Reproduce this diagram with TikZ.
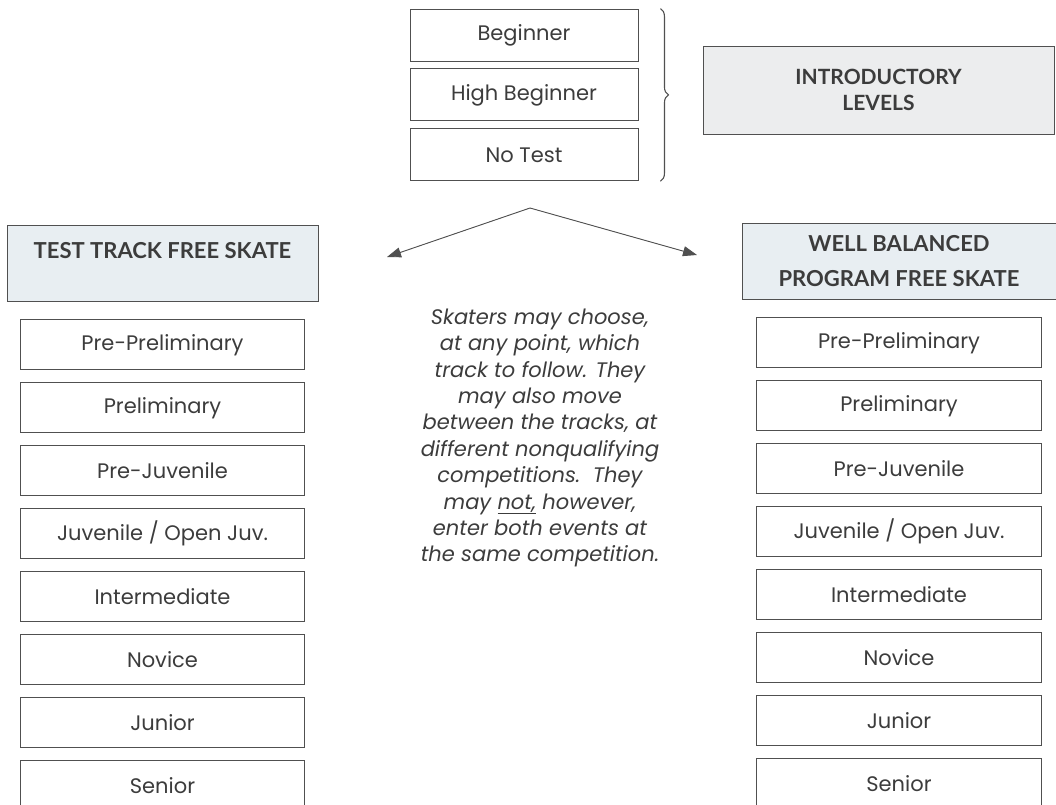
\documentclass[tikz,border=0pt]{standalone}
\usepackage{fontspec}
\setmainfont{Poppins}
\newfontfamily\headfont{Lato}
\usetikzlibrary{positioning,arrows.meta,decorations.pathreplacing}

\definecolor{inkgray}{HTML}{3C3C3C}
\definecolor{linegray}{HTML}{505050}
\definecolor{headfill}{HTML}{E8EEF2}
\definecolor{introfill}{HTML}{ECEDEE}

\begin{document}
\begin{tikzpicture}[
            x=1pt, y=-1pt,
            node distance=12pt,
            level/.style={rectangle, draw=linegray, line width=0.9pt, minimum height=50pt, text=inkgray, font=\fontsize{21}{24}\selectfont},
            leftlevel/.style={level, minimum width=284pt},
            rightlevel/.style={level, minimum width=285pt},
            intro/.style={level, minimum width=228pt, minimum height=52pt},
            header/.style={rectangle, draw=linegray, line width=0.9pt, fill=headfill, text=inkgray, minimum height=76pt, align=center, font=\headfont\bfseries\fontsize{22}{35}\selectfont},
            arrow/.style={-{Triangle[length=14pt,width=10pt]}, draw=linegray, fill=linegray, line width=0.9pt},
            brace/.style={decorate, decoration={brace, amplitude=8pt}, draw=linegray, line width=1.1pt}
            ]
            \useasboundingbox (0,0) rectangle (1056,804);

            % Introductory levels
            \node[intro] (beginner) at (524,35) {Beginner};
            \node[intro, below=7pt of beginner] (highbeg) {High Beginner};
            \node[intro, below=7pt of highbeg] (notest) {No Test};
            \node[header, fill=introfill, minimum width=351pt, minimum height=88pt, font=\headfont\bfseries\fontsize{21}{26}\selectfont] (introlevels) at (878.5,90) {INTRODUCTORY\\LEVELS};
            \draw[brace] ([xshift=22pt]beginner.north east) -- ([xshift=22pt]notest.south east);

            % Track headers
            \node[header, minimum width=311pt, text height=16pt, text depth=25pt] (testtrack) at (162.5,263) {TEST TRACK FREE SKATE};
            \node[header, minimum width=314pt] (wellbal) at (899,261) {WELL BALANCED\\PROGRAM FREE SKATE};

            % Arrows
            \coordinate (fork) at (530,208);
            \coordinate (forkleft) at (387,257);
            \coordinate (forkright) at (697,255);
            \draw[arrow] (fork) -- (forkleft);
            \draw[arrow] (fork) -- (forkright);

            % Test track levels
            \node[leftlevel, below=18pt of testtrack] (lprepre) {Pre-Preliminary};
            \node[leftlevel, below=of lprepre] (lprelim) {Preliminary};
            \node[leftlevel, below=of lprelim] (lprejuv) {Pre-Juvenile};
            \node[leftlevel, below=of lprejuv] (ljuv) {Juvenile / Open Juv.};
            \node[leftlevel, below=of ljuv] (linter) {Intermediate};
            \node[leftlevel, below=of linter] (lnovice) {Novice};
            \node[leftlevel, below=of lnovice] (ljunior) {Junior};
            \node[leftlevel, below=of ljunior] (lsenior) {Senior};

            % Well balanced levels
            \node[rightlevel, below=18pt of wellbal] (rprepre) {Pre-Preliminary};
            \node[rightlevel, below=of rprepre] (rprelim) {Preliminary};
            \node[rightlevel, below=of rprelim] (rprejuv) {Pre-Juvenile};
            \node[rightlevel, below=of rprejuv] (rjuv) {Juvenile / Open Juv.};
            \node[rightlevel, below=of rjuv] (rinter) {Intermediate};
            \node[rightlevel, below=of rinter] (rnovice) {Novice};
            \node[rightlevel, below=of rnovice] (rjunior) {Junior};
            \node[rightlevel, below=of rjunior] (rsenior) {Senior};

            % Note between the tracks
            \node[align=center, text=inkgray, font=\itshape\fontsize{21}{26.4}\selectfont] (note) at (540,438) {Skaters may choose,\\at any point, which\\track to follow. They\\may also move\\between the tracks, at\\different nonqualifying\\competitions.\ \ They\\may \underline{not,} however,\\enter both events at\\the same competition.};

        \end{tikzpicture}
\end{document}
